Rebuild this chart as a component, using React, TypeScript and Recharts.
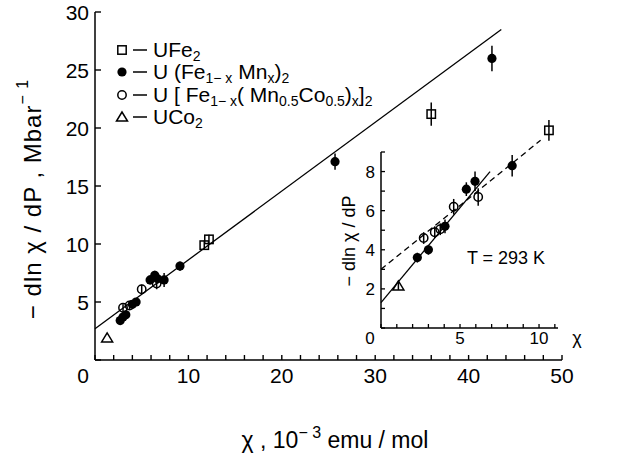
import React from 'react';
import { ScatterChart, Scatter, XAxis, YAxis, ErrorBar, ReferenceLine, Customized } from 'recharts';

const FONT = '"Liberation Sans", Arial, Helvetica, sans-serif';

// ---------- main plot data (chi in 1e-3 emu/mol, -dln chi/dP in Mbar^-1) ----------
const uFe2Main = [
  { x: 11.7, y: 9.9, e: 0.4 },
  { x: 12.2, y: 10.4, e: 0.4 },
  { x: 36.0, y: 21.2, e: 1.0 },
  { x: 48.6, y: 19.8, e: 0.9 },
];
const feMnMain = [
  { x: 2.7, y: 3.4, e: 0.3 },
  { x: 3.0, y: 3.7, e: 0.3 },
  { x: 3.3, y: 3.9, e: 0.3 },
  { x: 4.0, y: 4.8, e: 0.3 },
  { x: 4.4, y: 5.0, e: 0.3 },
  { x: 5.9, y: 6.9, e: 0.4 },
  { x: 6.4, y: 7.3, e: 0.4 },
  { x: 6.7, y: 7.0, e: 0.4 },
  { x: 7.4, y: 6.9, e: 0.6 },
  { x: 9.1, y: 8.1, e: 0.4 },
  { x: 25.7, y: 17.1, e: 0.7 },
  { x: 42.5, y: 26.0, e: 1.1 },
];
const feMnCoMain = [
  { x: 3.0, y: 4.5, e: 0.3 },
  { x: 3.7, y: 4.7, e: 0.3 },
  { x: 5.0, y: 6.1, e: 0.4 },
  { x: 6.6, y: 6.6, e: 0.5 },
];
const uCo2Main = [{ x: 1.3, y: 1.9, e: 0 }];
const mainFit = [{ x: 0, y: 2.7 }, { x: 43.5, y: 28.5 }];
const mainXTicks = [0, 2, 4, 6, 8, 10, 12, 14, 16, 18, 20, 22, 24, 26, 28, 30, 32, 34, 36, 38, 40, 42, 44, 46, 48, 50];
const mainYTicks = [0, 5, 10, 15, 20, 25, 30];

// ---------- inset data (T = 293 K) ----------
const insetFeMn = [
  { x: 2.3, y: 3.6, e: 0.25 },
  { x: 3.0, y: 4.0, e: 0.25 },
  { x: 4.05, y: 5.2, e: 0.35 },
  { x: 5.4, y: 7.1, e: 0.35 },
  { x: 5.95, y: 7.5, e: 0.5 },
  { x: 8.3, y: 8.3, e: 0.55 },
];
const insetFeMnCo = [
  { x: 2.7, y: 4.6, e: 0.3 },
  { x: 3.4, y: 4.9, e: 0.3 },
  { x: 3.75, y: 5.05, e: 0.3 },
  { x: 4.6, y: 6.2, e: 0.4 },
  { x: 6.15, y: 6.7, e: 0.45 },
];
const insetUCo2 = [{ x: 1.1, y: 2.15, e: 0.2 }];
const insetSolidFit = [{ x: 0, y: 1.3 }, { x: 6.9, y: 8.0 }];
const insetDashedFit = [{ x: 0, y: 3.0 }, { x: 10.1, y: 9.6 }];
const insetXTicks = [0, 1, 2, 3, 4, 5, 6, 7, 8, 9, 10, 11];
const insetYTicks = [0, 1, 2, 3, 4, 5, 6, 7, 8, 9];

// ---------- shapes ----------
const FilledCircle = (p: any) => <circle cx={p.cx} cy={p.cy} r={4.6} fill="#000" />;
const OpenCircle = (p: any) => <circle cx={p.cx} cy={p.cy} r={4.2} fill="none" stroke="#000" strokeWidth={1.5} />;
const OpenSquare = (p: any) => <rect x={p.cx - 4.2} y={p.cy - 4.2} width={8.4} height={8.4} fill="none" stroke="#000" strokeWidth={1.5} />;
const OpenTriangle = (p: any) => (
  <polygon points={`${p.cx},${p.cy - 5} ${p.cx - 5.5},${p.cy + 4} ${p.cx + 5.5},${p.cy + 4}`} fill="none" stroke="#000" strokeWidth={1.5} />
);

// ---------- ticks ----------
const TF = 21;
const MainXTick = (p: any) => {
  const v = p.payload.value;
  return (
    <g>
      <line x1={p.x} x2={p.x} y1={p.y} y2={p.y - 5} stroke="#000" strokeWidth={1.4} />
      {v % 10 === 0 && v !== 0 && (
        <text x={p.x} y={p.y + 23} textAnchor="middle" fontSize={TF} fontFamily={FONT} fill="#000">{v}</text>
      )}
    </g>
  );
};
const MainYTick = (p: any) => {
  const v = p.payload.value;
  return (
    <g>
      <line x1={p.x} x2={p.x + 6} y1={p.y} y2={p.y} stroke="#000" strokeWidth={1.4} />
      {v === 0 ? (
        <text x={p.x - 12} y={p.y + 23} textAnchor="middle" fontSize={TF} fontFamily={FONT} fill="#000">0</text>
      ) : (
        <text x={p.x - 6} y={p.y + 7.5} textAnchor="end" fontSize={TF} fontFamily={FONT} fill="#000">{v}</text>
      )}
    </g>
  );
};
const InsetXTick = (p: any) => {
  const v = p.payload.value;
  return (
    <g>
      <line x1={p.x} x2={p.x} y1={p.y} y2={p.y - 4} stroke="#000" strokeWidth={1.3} />
      {v % 5 === 0 && v !== 0 && (
        <text x={p.x} y={p.y + 16} textAnchor="middle" fontSize={17} fontFamily={FONT} fill="#000">{v}</text>
      )}
    </g>
  );
};
const InsetYTick = (p: any) => {
  const v = p.payload.value;
  return (
    <g>
      <line x1={p.x} x2={p.x + 4} y1={p.y} y2={p.y} stroke="#000" strokeWidth={1.3} />
      {v === 0 ? (
        <text x={p.x - 11} y={p.y + 16} textAnchor="middle" fontSize={17} fontFamily={FONT} fill="#000">0</text>
      ) : v % 2 === 0 ? (
        <text x={p.x - 6} y={p.y + 6} textAnchor="end" fontSize={17} fontFamily={FONT} fill="#000">{v}</text>
      ) : null}
    </g>
  );
};

// ---------- rich text helper ----------
type Seg = { t: string; s?: 'sub' | 'sup' };
const Rich = ({ segs, fs, sfs, off }: { segs: Seg[]; fs: number; sfs: number; off: number }) => {
  let cur = 0;
  return (
    <>
      {segs.map((sg, i) => {
        const target = sg.s === 'sub' ? off : sg.s === 'sup' ? -off : 0;
        const dy = target - cur;
        cur = target;
        return (
          <tspan key={i} dy={dy} fontSize={sg.s ? sfs : fs}>{sg.t}</tspan>
        );
      })}
    </>
  );
};

const legendRows: { marker: string; segs: Seg[] }[] = [
  { marker: 'square', segs: [{ t: 'UFe' }, { t: '2', s: 'sub' }] },
  { marker: 'filled', segs: [{ t: 'U (Fe' }, { t: '1− x', s: 'sub' }, { t: ' Mn' }, { t: 'x', s: 'sub' }, { t: ')' }, { t: '2', s: 'sub' }] },
  { marker: 'open', segs: [{ t: 'U [ Fe' }, { t: '1− x', s: 'sub' }, { t: '( Mn' }, { t: '0.5', s: 'sub' }, { t: 'Co' }, { t: '0.5', s: 'sub' }, { t: ')' }, { t: 'x', s: 'sub' }, { t: ']' }, { t: '2', s: 'sub' }] },
  { marker: 'triangle', segs: [{ t: 'UCo' }, { t: '2', s: 'sub' }] },
];
const legendY = [50, 72, 95, 117];

const MainDecor = () => (
  <g fontFamily={FONT} fill="#000">
    <text x={32} y={199} transform="rotate(-90, 32, 199)" textAnchor="middle" dominantBaseline="central" fontSize={24} letterSpacing={1}>
      <Rich segs={[{ t: '− dln χ / dP , Mbar' }, { t: '− 1', s: 'sup' }]} fs={24} sfs={16} off={10} />
    </text>
    <text x={335} y={448} textAnchor="middle" fontSize={23}>
      <Rich segs={[{ t: 'χ , 10' }, { t: '− 3', s: 'sup' }, { t: ' emu / mol' }]} fs={23} sfs={16} off={10} />
    </text>
    {legendRows.map((r, i) => {
      const cy = legendY[i];
      const cx = 122;
      let m: any = null;
      if (r.marker === 'square') m = <OpenSquare cx={cx} cy={cy} />;
      if (r.marker === 'filled') m = <FilledCircle cx={cx} cy={cy} />;
      if (r.marker === 'open') m = <OpenCircle cx={cx} cy={cy} />;
      if (r.marker === 'triangle') m = <OpenTriangle cx={cx} cy={cy} />;
      return (
        <g key={i}>
          {m}
          <line x1={133} x2={147} y1={cy} y2={cy} stroke="#000" strokeWidth={1.5} />
          <text x={153} y={cy + 7} fontSize={21}>
            <Rich segs={r.segs} fs={21} sfs={14} off={4} />
          </text>
        </g>
      );
    })}
  </g>
);

const InsetDecor = () => (
  <g fontFamily={FONT} fill="#000">
    <text x={49} y={121} transform="rotate(-90, 49, 121)" textAnchor="middle" dominantBaseline="central" fontSize={18}>− dln χ / dP</text>
    <text x={206} y={144} textAnchor="middle" fontSize={18}>T = 293 K</text>
    <text x={277} y={224} textAnchor="middle" fontSize={18}>χ</text>
  </g>
);

const axisStyle = { stroke: '#000', strokeWidth: 1.5 };

export default function App() {
  return (
    <div style={{ position: 'fixed', left: 0, top: 0, width: 623, height: 464, background: '#fff', fontFamily: FONT }}>
      <div style={{ position: 'absolute', left: 0, top: 0 }}>
        <ScatterChart width={623} height={464} margin={{ top: 12, right: 61, bottom: 74, left: 35 }}>
          <XAxis type="number" dataKey="x" domain={[0, 50]} ticks={mainXTicks} interval={0} height={30}
            tickSize={0} tickMargin={0} tickLine={false} tick={<MainXTick />} axisLine={axisStyle} />
          <YAxis type="number" dataKey="y" domain={[0, 30]} ticks={mainYTicks} interval={0} width={60}
            tickSize={0} tickMargin={0} tickLine={false} tick={<MainYTick />} axisLine={axisStyle} />
          <ReferenceLine segment={mainFit} stroke="#000" strokeWidth={1.3} ifOverflow="visible" />
          <Scatter data={uFe2Main} shape={OpenSquare} isAnimationActive={false}>
            <ErrorBar dataKey="e" direction="y" width={0} stroke="#000" strokeWidth={1.5} isAnimationActive={false} />
          </Scatter>
          <Scatter data={feMnMain} shape={FilledCircle} isAnimationActive={false}>
            <ErrorBar dataKey="e" direction="y" width={0} stroke="#000" strokeWidth={1.5} isAnimationActive={false} />
          </Scatter>
          <Scatter data={feMnCoMain} shape={OpenCircle} isAnimationActive={false}>
            <ErrorBar dataKey="e" direction="y" width={0} stroke="#000" strokeWidth={1.5} isAnimationActive={false} />
          </Scatter>
          <Scatter data={uCo2Main} shape={OpenTriangle} isAnimationActive={false} />
          <Customized component={MainDecor} />
        </ScatterChart>
      </div>
      <div style={{ position: 'absolute', left: 300, top: 120 }}>
        <ScatterChart width={300} height={250} margin={{ top: 32, right: 42, bottom: 12, left: 41 }}>
          <XAxis type="number" dataKey="x" domain={[0, 11.2]} ticks={insetXTicks} interval={0} height={30}
            tickSize={0} tickMargin={0} tickLine={false} tick={<InsetXTick />} axisLine={axisStyle} />
          <YAxis type="number" dataKey="y" domain={[0, 9]} ticks={insetYTicks} interval={0} width={40}
            tickSize={0} tickMargin={0} tickLine={false} tick={<InsetYTick />} axisLine={axisStyle} />
          <ReferenceLine segment={insetSolidFit} stroke="#000" strokeWidth={1.3} ifOverflow="visible" />
          <ReferenceLine segment={insetDashedFit} stroke="#000" strokeWidth={1.3} strokeDasharray="6 4" ifOverflow="visible" />
          <Scatter data={insetUCo2} shape={OpenTriangle} isAnimationActive={false}>
            <ErrorBar dataKey="e" direction="y" width={0} stroke="#000" strokeWidth={1.5} isAnimationActive={false} />
          </Scatter>
          <Scatter data={insetFeMn} shape={FilledCircle} isAnimationActive={false}>
            <ErrorBar dataKey="e" direction="y" width={0} stroke="#000" strokeWidth={1.5} isAnimationActive={false} />
          </Scatter>
          <Scatter data={insetFeMnCo} shape={OpenCircle} isAnimationActive={false}>
            <ErrorBar dataKey="e" direction="y" width={0} stroke="#000" strokeWidth={1.5} isAnimationActive={false} />
          </Scatter>
          <Customized component={InsetDecor} />
        </ScatterChart>
      </div>
    </div>
  );
}
